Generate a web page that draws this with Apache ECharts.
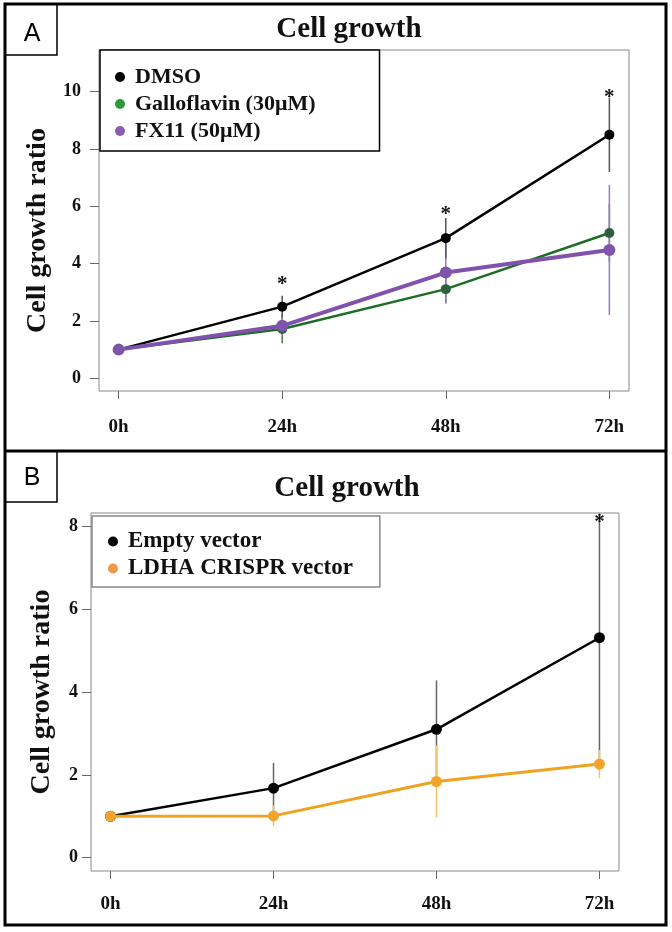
<!DOCTYPE html>
<html><head><meta charset="utf-8">
<script src="https://cdn.jsdelivr.net/npm/echarts@6/dist/echarts.min.js"></script>
<style>html,body{margin:0;padding:0;background:#fff}#c{width:672px;height:932px}</style>
</head><body><div id="c"></div>
<script>
// ---------- data ----------
const hours = [0, 24, 48, 72];
const hourLabels = ['0h', '24h', '48h', '72h'];
const yTicksA = [0, 2, 4, 6, 8, 10];
const yTicksB = [0, 2, 4, 6, 8];

const dmso = [1.0, 2.5, 4.89, 8.5];
const dmsoErr = [0, 0.38, 0.7, 1.3];
const galloflavin = [1.0, 1.72, 3.11, 5.07];
const galloflavinErr = [0, 0.5, 0.5, 1.0];
const fx11 = [1.0, 1.83, 3.69, 4.48];
const fx11Err = [0, 0.35, 1.06, 2.27];
const starsA = [null, 3.45, 5.87, 9.98];

const emptyVec = [1.0, 1.68, 3.10, 5.31];
const emptyVecErr = [0, 0.61, 1.18, 3.0];
const ldha = [1.0, 1.01, 1.84, 2.26];
const ldhaErr = [0, 0.25, 0.87, 0.34];
const starsB = [null, null, null, 8.21];

// ---------- helpers ----------
const FF = '"Liberation Serif", "Times New Roman", serif';

function errSeries(vals, errs, color, ax) {
  return {
    type: 'custom', xAxisIndex: ax, yAxisIndex: ax, z: 1, silent: true, clip: false,
    data: hours.map((h, i) => [h, vals[i] - errs[i], vals[i] + errs[i]]).filter((d, i) => errs[i] > 0),
    encode: { x: 0, y: [1, 2] },
    renderItem: (p, api) => {
      const lo = api.coord([api.value(0), api.value(1)]);
      const hi = api.coord([api.value(0), api.value(2)]);
      return { type: 'line', shape: { x1: lo[0], y1: lo[1], x2: hi[0], y2: hi[1] },
        style: { stroke: color, lineWidth: 1.5 } };
    }
  };
}
function starSeries(stars, ax) {
  return {
    type: 'custom', xAxisIndex: ax, yAxisIndex: ax, z: 6, silent: true, clip: false,
    data: hours.map((h, i) => [h, stars[i]]).filter(d => d[1] != null),
    encode: { x: 0, y: 1 },
    renderItem: (p, api) => {
      const c = api.coord([api.value(0), api.value(1)]);
      return { type: 'text', x: c[0], y: c[1] + 5,
        style: { text: '*', fill: '#111', font: 'bold 21px ' + FF, align: 'center', verticalAlign: 'middle' } };
    }
  };
}
function lineSeries(name, vals, lineColor, markColor, width, size, ax, z) {
  return {
    type: 'line', name, xAxisIndex: ax, yAxisIndex: ax, z, clip: false,
    data: hours.map((h, i) => [h, vals[i]]),
    symbol: 'circle', symbolSize: size, showSymbol: true,
    lineStyle: { color: lineColor, width },
    itemStyle: { color: markColor },
    emphasis: { disabled: true }
  };
}
function xAxisCfg(ax, margin) {
  return {
    gridIndex: ax, type: 'value', min: -2.88, max: 74.88,
    splitLine: { show: false }, axisLine: { show: false, onZero: false },
    axisTick: { show: true, customValues: hours, length: 8, lineStyle: { color: '#666', width: 1 } },
    axisLabel: { customValues: hours, formatter: v => hourLabels[hours.indexOf(v)], margin,
      fontFamily: FF, fontSize: 19, fontWeight: 'bold', color: '#111' }
  };
}
function yAxisCfg(ax, min, max, ticks, margin, gap, pad) {
  return {
    gridIndex: ax, type: 'value', min, max,
    splitLine: { show: false }, axisLine: { show: false, onZero: false },
    axisTick: { show: true, customValues: ticks, length: 9, lineStyle: { color: '#666', width: 1 } },
    axisLabel: { customValues: ticks, margin, fontFamily: FF, fontSize: 18, fontWeight: 'bold', color: '#111' },
    name: 'Cell growth ratio', nameLocation: 'middle', nameGap: gap, nameRotate: 90,
    nameTextStyle: { fontFamily: FF, fontSize: 28, fontWeight: 'bold', color: '#111', padding: pad }
  };
}

const chart = echarts.init(document.getElementById('c'), null, { renderer: 'canvas' });
chart.setOption({
  animation: false,
  backgroundColor: '#fff',
  title: [
    { text: 'Cell growth', left: 344, top: 10, textAlign: 'center',
      textStyle: { fontFamily: FF, fontSize: 29, fontWeight: 'bold', color: '#111' } },
    { text: 'Cell growth', left: 342, top: 469, textAlign: 'center',
      textStyle: { fontFamily: FF, fontSize: 29, fontWeight: 'bold', color: '#111' } }
  ],
  grid: [
    { left: 99, right: 43, top: 50, bottom: 541, show: true, borderColor: '#888', borderWidth: 1, backgroundColor: 'transparent' },
    { left: 91, right: 53, top: 513, bottom: 61, show: true, borderColor: '#888', borderWidth: 1, backgroundColor: 'transparent' }
  ],
  xAxis: [xAxisCfg(0, 27), xAxisCfg(1, 24)],
  yAxis: [
    yAxisCfg(0, -0.444, 11.456, yTicksA, 18, 36, [0, 20, 0, 0]),
    yAxisCfg(1, -0.32, 8.32, yTicksB, 13, 35, [0, 0, 0, 0])
  ],
  legend: [
    { data: [{ name: 'DMSO' }, { name: 'Galloflavin (30μM)', itemStyle: { color: '#2a9a3a' } }, { name: 'FX11 (50μM)', itemStyle: { color: '#8a5cb5' } }],
      orient: 'vertical', left: 100, top: 50, icon: 'circle', itemWidth: 10, itemHeight: 10, itemGap: 5,
      padding: [16, 64, 9, 15], borderColor: '#000', borderWidth: 1.5, backgroundColor: '#fff',
      selectedMode: false, z: 10,
      textStyle: { fontFamily: FF, fontSize: 22, fontWeight: 'bold', color: '#111', padding: [0, 0, 0, 5] } },
    { data: [{ name: 'Empty vector' }, { name: 'LDHA CRISPR vector', itemStyle: { color: '#ee9a48' } }],
      orient: 'vertical', left: 92, top: 516, icon: 'circle', itemWidth: 10, itemHeight: 10, itemGap: 4,
      padding: [14, 27, 7, 16], borderColor: '#888', borderWidth: 1.5, backgroundColor: '#fff',
      selectedMode: false, z: 10,
      textStyle: { fontFamily: FF, fontSize: 23, fontWeight: 'bold', color: '#111', padding: [0, 0, 0, 5] } }
  ],
  series: [
    errSeries(galloflavin, galloflavinErr, '#4d7a4d', 0),
    errSeries(fx11, fx11Err, '#9a78c2', 0),
    errSeries(dmso, dmsoErr, '#555', 0),
    lineSeries('DMSO', dmso, '#000', '#000', 2.5, 10, 0, 3),
    lineSeries('Galloflavin (30μM)', galloflavin, '#1c6e24', '#2f5f3f', 2.5, 10, 0, 4),
    lineSeries('FX11 (50μM)', fx11, '#8152ad', '#7e55aa', 4, 12, 0, 5),
    starSeries(starsA, 0),
    errSeries(emptyVec, emptyVecErr, '#666', 1),
    errSeries(ldha, ldhaErr, '#f3c466', 1),
    lineSeries('Empty vector', emptyVec, '#000', '#000', 2.5, 11, 1, 3),
    lineSeries('LDHA CRISPR vector', ldha, '#f0a21e', '#f2a52a', 3, 11, 1, 4),
    starSeries(starsB, 1)
  ],
  graphic: [
    { type: 'rect', z: 100, shape: { x: 5, y: 4, width: 661, height: 921 }, style: { fill: 'none', stroke: '#000', lineWidth: 3 } },
    { type: 'line', z: 100, shape: { x1: 5, y1: 451, x2: 666, y2: 451 }, style: { stroke: '#000', lineWidth: 3 } },
    { type: 'rect', z: 99, shape: { x: 5, y: 4, width: 52, height: 51 }, style: { fill: '#fff', stroke: '#000', lineWidth: 1.5 } },
    { type: 'text', z: 101, x: 32, y: 34, style: { text: 'A', font: '25px "Liberation Sans", Arial, sans-serif', align: 'center', verticalAlign: 'middle', fill: '#000' } },
    { type: 'rect', z: 99, shape: { x: 5, y: 451, width: 52, height: 51 }, style: { fill: '#fff', stroke: '#000', lineWidth: 1.5 } },
    { type: 'text', z: 101, x: 32, y: 478, style: { text: 'B', font: '25px "Liberation Sans", Arial, sans-serif', align: 'center', verticalAlign: 'middle', fill: '#000' } }
  ]
});
</script>
</body></html>
